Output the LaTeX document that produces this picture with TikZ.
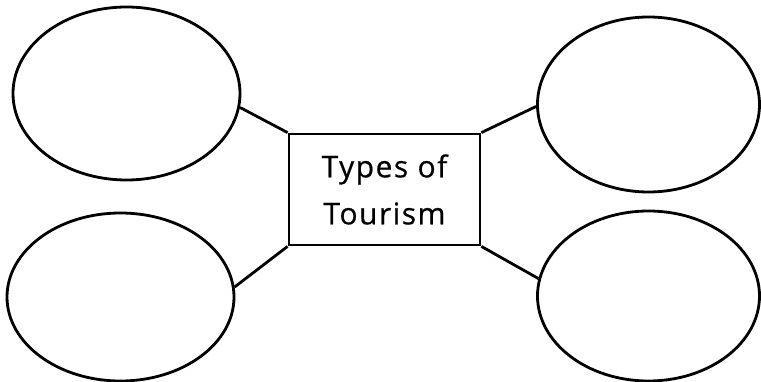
\documentclass[tikz,border=0pt]{standalone}
\usepackage{fontspec}
\setmainfont{Open Sans}
\newfontfamily\labelfont{Open Sans}[LetterSpace=5,FakeBold=0.6]
\usetikzlibrary{shapes.geometric}
\begin{document}
\begin{tikzpicture}[x=1pt,y=-1pt,
  bubble/.style={draw,line width=2.8pt,ellipse,inner sep=0pt},
  link/.style={line width=2.8pt},
  box/.style={draw,line width=2.8pt,minimum width=191pt,minimum height=111pt,inner sep=0pt,align=center,font=\labelfont\fontsize{30}{47}\selectfont}]
\useasboundingbox (0,0) rectangle (761,382);
\node[bubble,minimum width=227pt,minimum height=173pt] (tl) at (126.5,93.5) {};
\node[bubble,minimum width=227pt,minimum height=168pt] (bl) at (120.5,297) {};
\node[bubble,minimum width=222pt,minimum height=175pt] (tr) at (648.5,104.5) {};
\node[bubble,minimum width=222pt,minimum height=170pt] (br) at (648.5,296) {};
\node[box] (c) at (384.5,189.5) {Types of\\Tourism};
\draw[link] (tl.-7) -- (c.north west);
\draw[link] (bl.5.5) -- (c.south west);
\draw[link] (tr.181.8) -- (c.north east);
\draw[link] (br.171) -- (c.south east);
\end{tikzpicture}
\end{document}
